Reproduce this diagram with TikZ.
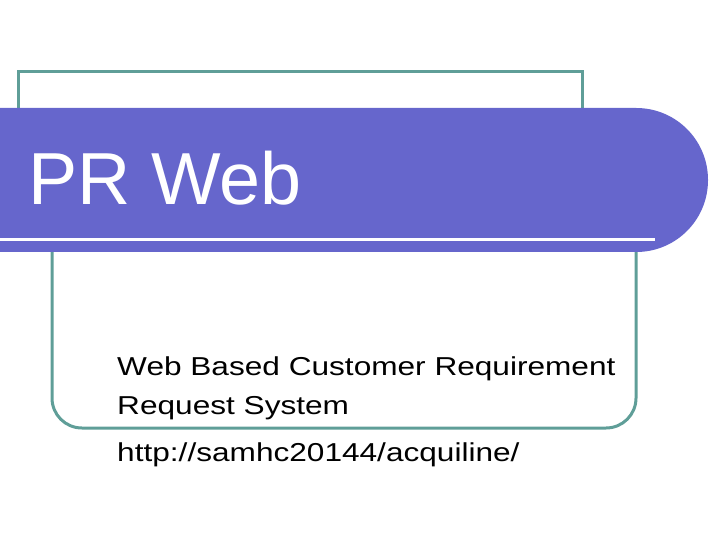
\documentclass[tikz,border=0pt]{standalone}
\usepackage{fontspec}
\setmainfont{Liberation Sans}
\usepackage{xcolor}
\definecolor{frameteal}{HTML}{5F9E98}
\definecolor{bandblue}{HTML}{6666CC}
\begin{document}
\begin{tikzpicture}[x=1bp,y=-1bp]
\tikzstyle{frame} = [draw=frameteal,line width=3bp];
\tikzstyle{title} = [font=\fontsize{74}{80}\selectfont,color=white,anchor=base west,inner sep=0];
\tikzstyle{body} = [font=\fontsize{26}{30}\selectfont,anchor=base west,inner sep=0,xscale=1.22];
\useasboundingbox (0,0) rectangle (720,540);
% upper and lower frames
\draw [frame] (18,110) -- (18,72) -- (582,72) -- (582,110);
\draw [frame] (52,252) [rounded corners=30] -- (52,428) -- (636,428) [sharp corners] -- (636,252);
% title band
\fill [bandblue] (0,108) [rounded corners=72] -- (708,108) -- (708,252) [sharp corners] -- (0,252) -- cycle;
\draw [white,line width=3bp] (0,240) -- (655,240);
\node [title] (prweb) at (28,205) {PR Web};
\node [body] (line1) at (117,375) {Web Based Customer Requirement};
\node [body] (line2) at (117,414) {Request System};
\node [body] (url) at (117,461) {http://samhc20144/acquiline/};
\end{tikzpicture}
\end{document}
